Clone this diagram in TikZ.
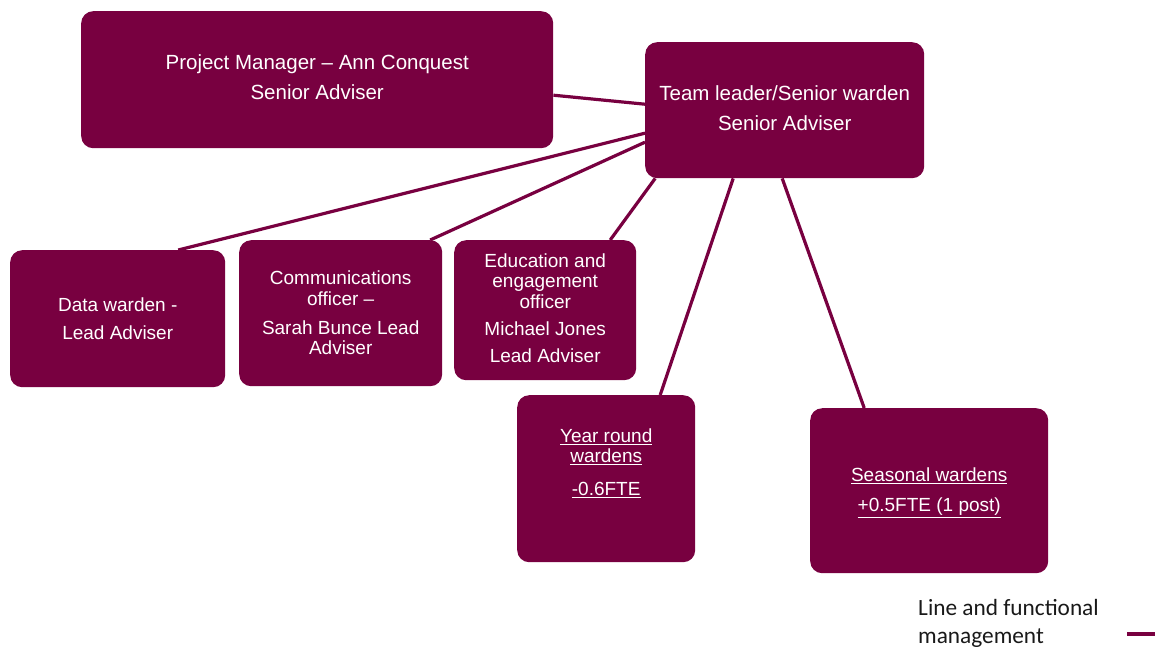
\documentclass[tikz,border=0pt]{standalone}
\usepackage{fontspec}
\setmainfont{Liberation Sans}
\newfontfamily\legendfont{Carlito}
\definecolor{plum}{RGB}{120,0,64}
\tikzset{
  box/.style={draw=none, fill=plum, rounded corners=12pt, inner sep=0pt, anchor=north west,
    text=white, align=center, font=\fontsize{19}{20.5}\selectfont},
  bigbox/.style={box, font=\fontsize{20.5}{22}\selectfont},
  link/.style={draw=plum, line width=3.2pt},
  boxtext/.style={text=white, align=center, inner sep=0pt, font=\fontsize{19}{20.5}\selectfont}
}
\begin{document}
\begin{tikzpicture}[x=1pt,y=-1pt]
\useasboundingbox (0,0) rectangle (1155,648);
\node[bigbox, minimum width=472pt, minimum height=137pt] (pm) at (81,11) {};
\node[boxtext, font=\fontsize{20.5}{22}\selectfont] (pmtxt) at ([yshift=3pt]pm.center) {Project Manager -- Ann Conquest\\[8pt]Senior Adviser};
\node[bigbox, minimum width=279pt, minimum height=136pt] (tl) at (645,42) {};
\node[boxtext, font=\fontsize{20.5}{22}\selectfont] (tltxt) at ([yshift=2pt]tl.center) {Team leader/Senior warden\\[8.5pt]Senior Adviser};
\node[box, minimum width=215pt, minimum height=137pt] (data) at (10,250) {Data warden -\\[7.5pt]Lead Adviser};
\node[box, minimum width=203pt, minimum height=146pt] (comms) at (239,240) {Communications\\officer --\\[8.5pt]Sarah Bunce Lead\\Adviser};
\node[box, minimum width=182pt, minimum height=140pt] (edu) at (454,240) {};
\node[boxtext] (edutxt) at ([yshift=2pt]edu.center) {Education and\\engagement\\officer\\[6.5pt]Michael Jones\\[7pt]Lead Adviser};
\node[box, minimum width=178pt, minimum height=167pt] (year) at (517,395) {};
\node[boxtext] (yeartxt) at ([yshift=15.5pt]year.center) {\underline{Year round}\\\underline{wardens}\\[12.5pt]\underline{-0.6FTE}};
\node[box, minimum width=238pt, minimum height=165pt] (seas) at (810,408) {};
\node[boxtext] (seastxt) at ([yshift=-2pt]seas.center) {\underline{Seasonal wardens}\\[9.5pt]\underline{+0.5FTE (1 post)}};
% links
\draw[link] ([yshift=-15.5pt]pm.east) -- ([yshift=6pt]tl.west);
\draw[link] ([yshift=-23pt]tl.west) -- ([xshift=60.5pt]data.north);
\draw[link] ([yshift=-32pt]tl.west) -- ([xshift=89.5pt]comms.north);
\draw[link] ([xshift=-129.5pt]tl.south) -- ([xshift=65pt]edu.north);
\draw[link] ([xshift=-51.5pt]tl.south) -- ([xshift=54pt]year.north);
\draw[link] ([xshift=-2.5pt]tl.south) -- ([xshift=-65pt]seas.north);
% legend
\node[anchor=north west, inner sep=0pt, align=left, text=black!90, font=\legendfont\fontsize{23.3}{28}\selectfont] (legtxt) at (918,599) {Line and functional\\management};
\coordinate (legend) at (1155,634);
\draw[link] (legend) -- ++(-28,0) coordinate (legendend);
\end{tikzpicture}
\end{document}
